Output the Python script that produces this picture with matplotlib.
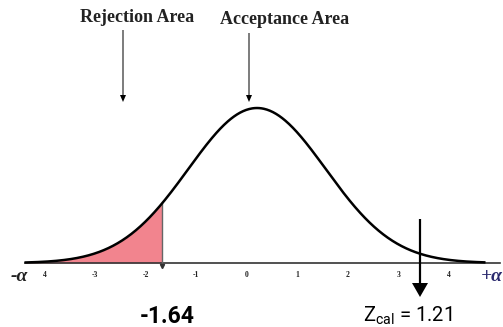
import numpy as np
import matplotlib.pyplot as plt
from matplotlib.patches import FancyArrow

# curve and labels
tick_vals = [-4, -3, -2, -1, 0, 1, 2, 3, 4]
tick_labels = ['4', '-3', '-2', '-1', '0', '1', '2', '3', '4']
mu, sigma = 0.2, 1.36
z_crit = -1.68
crit_label = '-1.64'
z_cal_label = r'Z$_{\mathregular{cal}}$ = 1.21'

x = np.linspace(-4.38, 4.7, 600)
y = np.exp(-(x - mu) ** 2 / (2 * sigma ** 2))

fig = plt.figure(figsize=(5.03, 3.27), dpi=100)
ax = fig.add_axes([0, 0, 1, 1])
ax.set_xlim(-4.889, 5.071)
ax.set_ylim(-0.413, 1.697)
ax.axis('off')

# baseline
ax.plot([-4.395, 5.01], [0, 0], color='#333333', lw=1.2)
ax.plot(x, y, color='black', lw=1.8, zorder=3)

m = x <= z_crit
ax.fill_between(x[m], 0, y[m], color='#f2848e', lw=0)
yc = np.exp(-(z_crit - mu) ** 2 / (2 * sigma ** 2))
ax.plot([z_crit, z_crit], [0, yc], color='#666666', lw=1)
ax.plot(z_crit, -0.02, marker='v', color='#333333', ms=3)

for v, lab in zip(tick_vals, tick_labels):
    ax.text(v, -0.08, lab, ha='center', va='center', fontsize=5.5,
            family='Liberation Serif', weight='bold', color='#222222')

ax.text(-4.5, -0.085, '-α', ha='center', va='center', fontsize=14,
        family='Liberation Serif', weight='bold', style='italic', color='#222222')
ax.text(4.85, -0.085, '+α', ha='center', va='center', fontsize=14,
        family='Liberation Serif', weight='bold', style='italic', color='#2b2a6e')

fig.text(137 / 503, 1 - 17 / 327, 'Rejection Area', ha='center', va='center',
         fontsize=13, family='Liberation Serif', weight='bold', color='#222222')
fig.text(285 / 503, 1 - 19 / 327, 'Acceptance Area', ha='center', va='center',
         fontsize=13, family='Liberation Serif', weight='bold', color='#222222')

def px_arrow(x0, y0, y1, lw, hw, hl):
    fig.add_artist(FancyArrow(
        x0 / 503, 1 - y0 / 327, 0, -(y1 - y0) / 327, width=lw / 503,
        head_width=hw / 503, head_length=hl / 327, length_includes_head=True,
        color='black', lw=0, transform=fig.transFigure))

px_arrow(123, 30, 102, 1.0, 6, 7)
px_arrow(249, 33, 102, 1.0, 6, 7)
px_arrow(420, 219, 297, 2.2, 16, 14)

ax.text((167 - 246.9) / 50.5, -0.345, crit_label, ha='center', va='center',
        fontsize=16.5, family='Roboto', weight='bold')
ax.text((408 - 246.9) / 50.5, -0.34, z_cal_label, ha='center', va='center',
        fontsize=14.5, family='Roboto')

fig.savefig('out.png', dpi=100)
